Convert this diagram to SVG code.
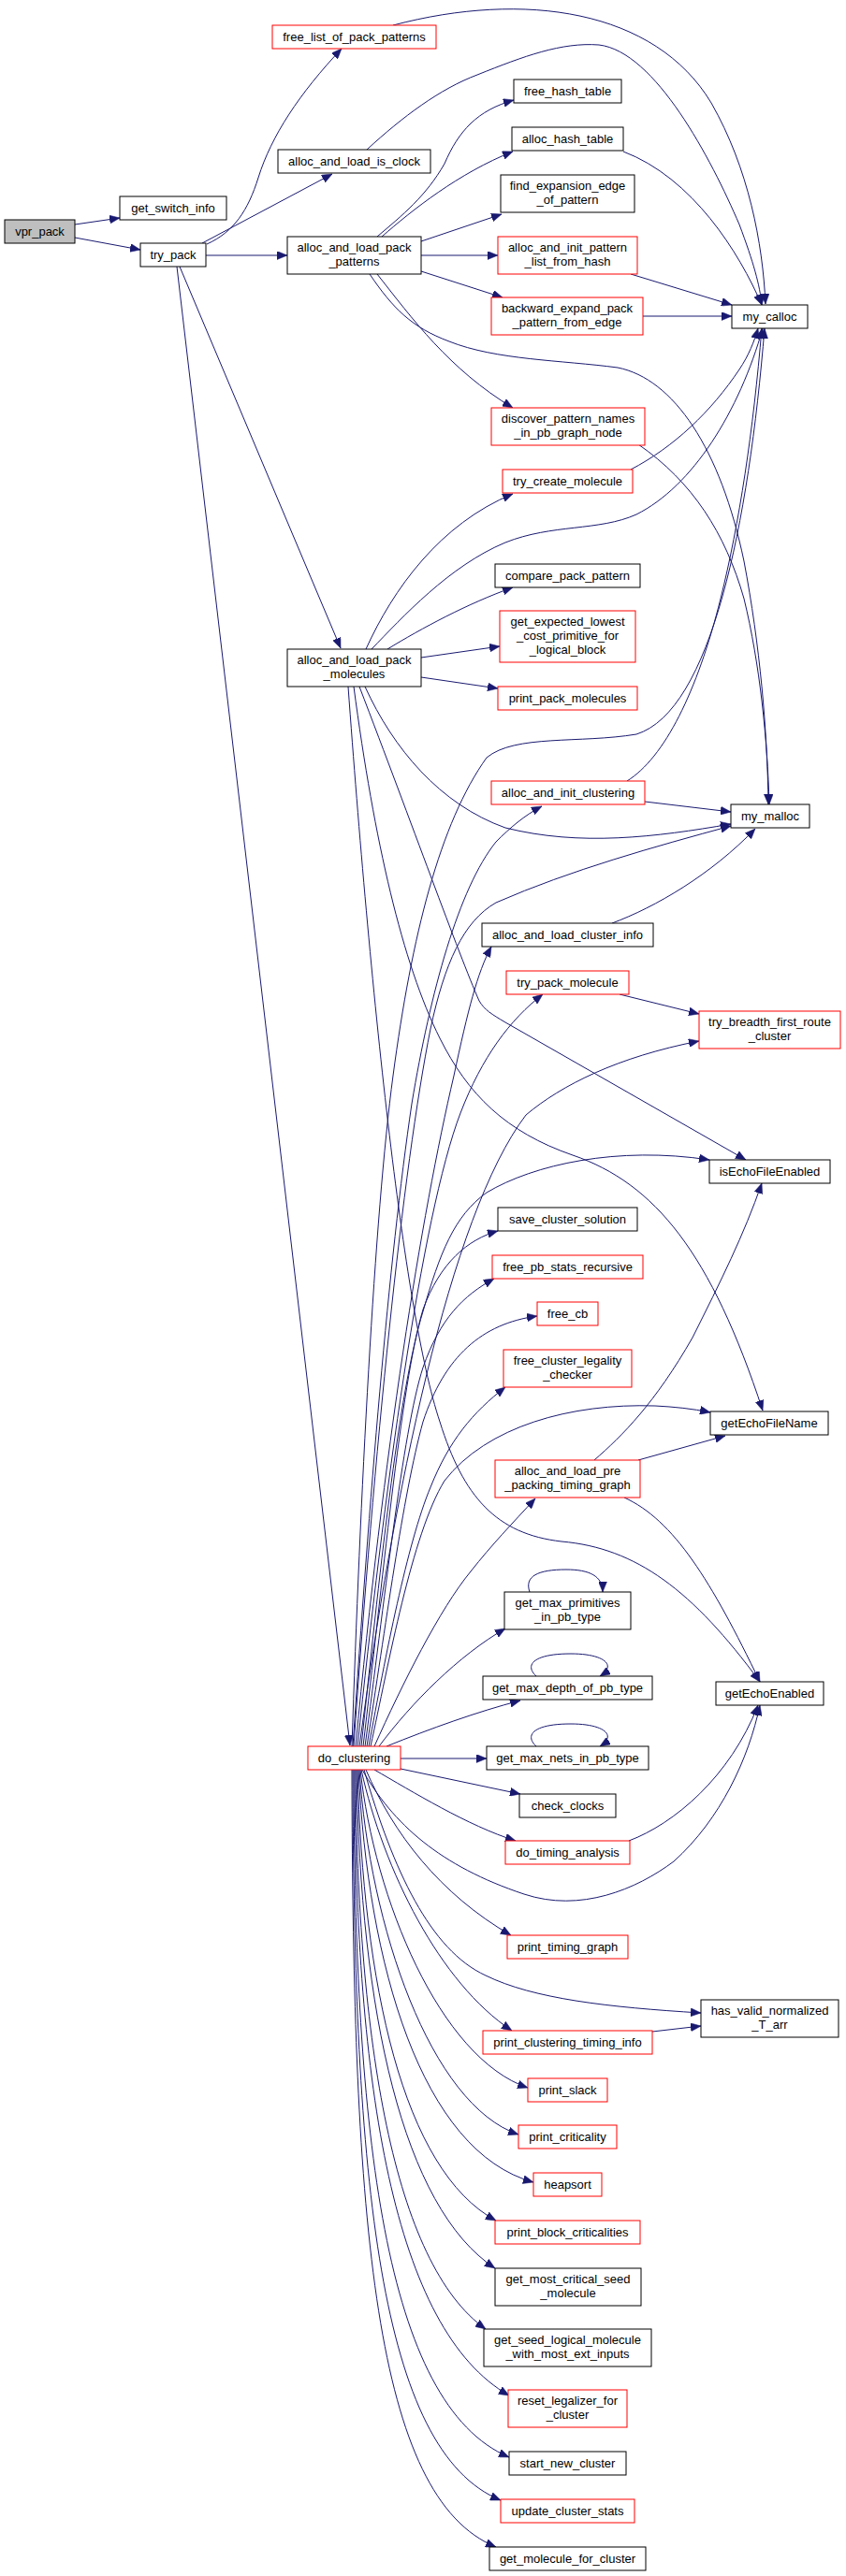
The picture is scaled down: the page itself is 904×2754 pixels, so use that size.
<svg xmlns="http://www.w3.org/2000/svg" width="904" height="2754" viewBox="0 0 904 2754">
<style>
.node rect{fill:#ffffff;stroke:#000000;stroke-width:1}
.node.red rect{stroke:#ff0000}
.node.root rect{fill:#bfbfbf}
.node text{font-family:"Liberation Sans",Arial,Helvetica,sans-serif;font-size:13px;fill:#000000;text-anchor:middle}
#edges path{fill:none;stroke:#191970;stroke-width:1}
</style>
<defs>
<marker id="ah" markerUnits="userSpaceOnUse" markerWidth="11" markerHeight="9" viewBox="0 0 11 9" refX="11" refY="4.5" orient="auto">
<path d="M0,0 L11,4.5 L0,9 Z" fill="#191970" stroke="#191970" stroke-width="0.5"/>
</marker>
</defs>
<rect width="904" height="2754" fill="#ffffff"/>
<g id="edges" marker-end="url(#ah)">
<path d="M80,240 L128,233"/>
<path d="M80,254 L150,267"/>
<path d="M221,261 C250,248 265,225 276,190 C290,145 320,100 365,52"/>
<path d="M216,260 L355,186"/>
<path d="M220,273 L307,273"/>
<path d="M192,285 L364,693"/>
<path d="M189,285 L374,1866"/>
<path d="M420,27 C560,-10 700,10 760,110 C800,180 815,260 818,325"/>
<path d="M392,160 C430,125 470,95 510,80 C560,60 600,45 640,48 C700,55 760,170 790,240 C805,280 812,305 814,326"/>
<path d="M403,253 C430,230 455,210 475,175 C490,140 510,118 549,107"/>
<path d="M408,253 C440,225 490,185 548,162"/>
<path d="M450,258 L536,229"/>
<path d="M450,273 L532,273"/>
<path d="M450,290 L537,318"/>
<path d="M403,293 C440,340 480,395 548,436"/>
<path d="M395,293 C420,330 440,350 480,365 C530,385 600,385 660,393 C720,405 770,480 795,600 C812,690 820,780 821,860"/>
<path d="M666,162 C740,190 790,270 814,326"/>
<path d="M674,293 L782,326"/>
<path d="M687,338 L782,338"/>
<path d="M682,475 C740,515 775,570 795,640 C812,710 820,790 822,860"/>
<path d="M674,502 C720,478 760,440 790,395 C800,380 806,365 810,351"/>
<path d="M391,694 C420,630 470,560 548,528"/>
<path d="M397,694 C430,660 480,605 540,580 C590,560 640,568 680,550 C740,520 790,440 815,351"/>
<path d="M414,694 C450,672 500,645 548,628"/>
<path d="M450,703 L534,691"/>
<path d="M450,724 L532,736"/>
<path d="M390,734 C420,800 470,860 540,885 C620,905 700,895 781,881"/>
<path d="M384,734 C440,880 490,1020 512,1070 C518,1080 525,1084 540,1093 L797,1240"/>
<path d="M378,734 C400,900 430,1030 470,1110 C500,1170 540,1210 612,1235 C700,1265 760,1340 815,1508"/>
<path d="M372,734 C395,1050 430,1400 470,1520 C495,1600 530,1640 600,1648 C680,1655 740,1700 812,1798"/>
<path d="M670,835 C710,810 745,740 770,640 C790,560 805,460 814,351"/>
<path d="M689,857 L781,868"/>
<path d="M654,987 C700,970 760,935 807,886"/>
<path d="M662,1063 L747,1084"/>
<path d="M635,1561 C665,1535 700,1500 740,1430 C770,1370 795,1320 814,1265"/>
<path d="M682,1561 L775,1535"/>
<path d="M667,1601 C720,1625 760,1690 812,1798"/>
<path d="M672,1968 C720,1950 780,1900 810,1823"/>
<path d="M697,2172 L749,2166"/>
<path d="M566,1702 C560,1685 575,1678 605,1678 C630,1678 644,1685 644,1702"/>
<path d="M573,1792 C560,1780 570,1768 610,1768 C645,1768 660,1780 641,1792"/>
<path d="M573,1867 C560,1855 570,1843 610,1843 C645,1843 660,1855 641,1867"/>
<path d="M376,1867 C385,1600 400,1300 420,1150 C440,1000 470,880 520,810 C550,785 620,795 680,785 C760,760 800,560 817,351"/>
<path d="M377,1867 C395,1600 415,1350 440,1180 C460,1060 490,950 530,900 C545,885 560,872 579,862"/>
<path d="M378,1867 C400,1550 430,1250 460,1100 C475,1030 495,985 530,965 C610,930 700,905 781,883"/>
<path d="M380,1867 C410,1550 450,1300 485,1150 C500,1080 510,1040 525,1012"/>
<path d="M382,1867 C410,1600 450,1300 492,1190 C515,1130 545,1090 580,1063"/>
<path d="M384,1867 C420,1600 480,1300 562,1192 C600,1160 660,1130 747,1113"/>
<path d="M386,1867 C405,1690 425,1490 452,1402 C470,1340 485,1300 520,1275 C570,1245 660,1225 758,1240"/>
<path d="M388,1867 C408,1700 428,1480 452,1400 C470,1350 500,1325 532,1316"/>
<path d="M390,1867 C410,1720 430,1530 452,1462 C470,1410 495,1385 528,1367"/>
<path d="M392,1867 C412,1740 430,1600 452,1520 C475,1450 515,1415 574,1407"/>
<path d="M394,1867 C412,1770 435,1650 460,1590 C480,1540 505,1510 540,1483"/>
<path d="M396,1867 C415,1780 440,1640 475,1583 C520,1525 610,1500 700,1503 C720,1504 740,1506 759,1510"/>
<path d="M400,1867 C430,1800 470,1720 503,1680 C525,1652 548,1628 572,1602"/>
<path d="M405,1867 C440,1820 490,1770 540,1741"/>
<path d="M413,1867 C460,1848 510,1830 556,1818"/>
<path d="M428,1880 L520,1880"/>
<path d="M428,1891 L556,1918"/>
<path d="M400,1892 C440,1915 500,1952 551,1968"/>
<path d="M387,1892 C420,1950 470,1995 560,2025 C620,2045 680,2020 720,1990 C770,1945 800,1880 812,1823"/>
<path d="M391,1892 C420,1960 470,2025 546,2069"/>
<path d="M389,1892 C420,2000 460,2085 519,2112 C570,2137 650,2146 749,2152"/>
<path d="M386,1892 C410,2000 470,2120 547,2171"/>
<path d="M385,1892 C400,2030 470,2200 564,2232"/>
<path d="M384,1892 C395,2060 460,2250 554,2282"/>
<path d="M383,1892 C393,2100 450,2300 570,2333"/>
<path d="M382,1892 C388,2120 430,2320 530,2374"/>
<path d="M381,1892 C385,2150 430,2360 529,2425"/>
<path d="M380,1892 C382,2180 420,2420 519,2490"/>
<path d="M379,1892 C380,2230 420,2490 544,2561"/>
<path d="M378,1892 C379,2280 410,2570 544,2627"/>
<path d="M377,1892 C378,2330 405,2620 535,2673"/>
<path d="M376,1892 C377,2380 400,2670 530,2723"/>
</g>
<g id="n_vpr_pack" class="node root"><rect x="5" y="235" width="75" height="25"/><text x="42.5" y="252">vpr_pack</text></g>
<g id="n_get_switch_info" class="node"><rect x="128" y="210" width="114" height="25"/><text x="185" y="227">get_switch_info</text></g>
<g id="n_try_pack" class="node"><rect x="150" y="260" width="70" height="25"/><text x="185" y="277">try_pack</text></g>
<g id="n_free_list_of_pack_patterns" class="node red"><rect x="291" y="27" width="175" height="25"/><text x="378.5" y="44">free_list_of_pack_patterns</text></g>
<g id="n_alloc_and_load_is_clock" class="node"><rect x="297" y="160" width="163" height="25"/><text x="378.5" y="177">alloc_and_load_is_clock</text></g>
<g id="n_alloc_and_load_pack_patterns" class="node"><rect x="307" y="253" width="143" height="40"/><text x="378.5" y="269">alloc_and_load_pack<tspan x="378.5" y="284">_patterns</tspan></text></g>
<g id="n_free_hash_table" class="node"><rect x="549" y="85" width="115" height="25"/><text x="606.5" y="102">free_hash_table</text></g>
<g id="n_alloc_hash_table" class="node"><rect x="547" y="136" width="119" height="25"/><text x="606.5" y="153">alloc_hash_table</text></g>
<g id="n_find_expansion_edge_of_pattern" class="node"><rect x="535" y="187" width="143" height="40"/><text x="606.5" y="203">find_expansion_edge<tspan x="606.5" y="218">_of_pattern</tspan></text></g>
<g id="n_alloc_and_init_pattern_list_from_hash" class="node red"><rect x="532" y="253" width="149" height="40"/><text x="606.5" y="269">alloc_and_init_pattern<tspan x="606.5" y="284">_list_from_hash</tspan></text></g>
<g id="n_backward_expand_pack_pattern_from_edge" class="node red"><rect x="525" y="318" width="162" height="40"/><text x="606" y="334">backward_expand_pack<tspan x="606" y="349">_pattern_from_edge</tspan></text></g>
<g id="n_my_calloc" class="node"><rect x="782" y="326" width="81" height="25"/><text x="822.5" y="343">my_calloc</text></g>
<g id="n_discover_pattern_names_in_pb_graph_node" class="node red"><rect x="525" y="436" width="164" height="40"/><text x="607" y="452">discover_pattern_names<tspan x="607" y="467">_in_pb_graph_node</tspan></text></g>
<g id="n_try_create_molecule" class="node red"><rect x="537" y="502" width="139" height="25"/><text x="606.5" y="519">try_create_molecule</text></g>
<g id="n_compare_pack_pattern" class="node"><rect x="529" y="603" width="155" height="25"/><text x="606.5" y="620">compare_pack_pattern</text></g>
<g id="n_get_expected_lowest_cost_primitive_for_logical_block" class="node red"><rect x="534" y="653" width="145" height="55"/><text x="606.5" y="669">get_expected_lowest<tspan x="606.5" y="684">_cost_primitive_for</tspan><tspan x="606.5" y="699">_logical_block</tspan></text></g>
<g id="n_print_pack_molecules" class="node red"><rect x="532" y="734" width="149" height="25"/><text x="606.5" y="751">print_pack_molecules</text></g>
<g id="n_alloc_and_load_pack_molecules" class="node"><rect x="307" y="694" width="143" height="40"/><text x="378.5" y="710">alloc_and_load_pack<tspan x="378.5" y="725">_molecules</tspan></text></g>
<g id="n_alloc_and_init_clustering" class="node red"><rect x="525" y="835" width="164" height="25"/><text x="607" y="852">alloc_and_init_clustering</text></g>
<g id="n_my_malloc" class="node"><rect x="781" y="860" width="84" height="25"/><text x="823" y="877">my_malloc</text></g>
<g id="n_alloc_and_load_cluster_info" class="node"><rect x="515" y="987" width="183" height="25"/><text x="606.5" y="1004">alloc_and_load_cluster_info</text></g>
<g id="n_try_pack_molecule" class="node red"><rect x="541" y="1038" width="131" height="25"/><text x="606.5" y="1055">try_pack_molecule</text></g>
<g id="n_try_breadth_first_route_cluster" class="node red"><rect x="747" y="1081" width="151" height="40"/><text x="822.5" y="1097">try_breadth_first_route<tspan x="822.5" y="1112">_cluster</tspan></text></g>
<g id="n_isEchoFileEnabled" class="node"><rect x="758" y="1240" width="129" height="25"/><text x="822.5" y="1257">isEchoFileEnabled</text></g>
<g id="n_save_cluster_solution" class="node"><rect x="532" y="1291" width="149" height="25"/><text x="606.5" y="1308">save_cluster_solution</text></g>
<g id="n_free_pb_stats_recursive" class="node red"><rect x="526" y="1342" width="161" height="25"/><text x="606.5" y="1359">free_pb_stats_recursive</text></g>
<g id="n_free_cb" class="node red"><rect x="574" y="1392" width="65" height="25"/><text x="606.5" y="1409">free_cb</text></g>
<g id="n_free_cluster_legality_checker" class="node red"><rect x="538" y="1443" width="137" height="40"/><text x="606.5" y="1459">free_cluster_legality<tspan x="606.5" y="1474">_checker</tspan></text></g>
<g id="n_getEchoFileName" class="node"><rect x="759" y="1509" width="126" height="25"/><text x="822" y="1526">getEchoFileName</text></g>
<g id="n_alloc_and_load_pre_packing_timing_graph" class="node red"><rect x="529" y="1561" width="155" height="40"/><text x="606.5" y="1577">alloc_and_load_pre<tspan x="606.5" y="1592">_packing_timing_graph</tspan></text></g>
<g id="n_get_max_primitives_in_pb_type" class="node"><rect x="539" y="1702" width="135" height="40"/><text x="606.5" y="1718">get_max_primitives<tspan x="606.5" y="1733">_in_pb_type</tspan></text></g>
<g id="n_getEchoEnabled" class="node"><rect x="765" y="1798" width="115" height="25"/><text x="822.5" y="1815">getEchoEnabled</text></g>
<g id="n_get_max_depth_of_pb_type" class="node"><rect x="516" y="1792" width="181" height="25"/><text x="606.5" y="1809">get_max_depth_of_pb_type</text></g>
<g id="n_get_max_nets_in_pb_type" class="node"><rect x="520" y="1867" width="173" height="25"/><text x="606.5" y="1884">get_max_nets_in_pb_type</text></g>
<g id="n_check_clocks" class="node"><rect x="555" y="1918" width="103" height="25"/><text x="606.5" y="1935">check_clocks</text></g>
<g id="n_do_clustering" class="node red"><rect x="329" y="1867" width="99" height="25"/><text x="378.5" y="1884">do_clustering</text></g>
<g id="n_do_timing_analysis" class="node red"><rect x="540" y="1968" width="133" height="25"/><text x="606.5" y="1985">do_timing_analysis</text></g>
<g id="n_print_timing_graph" class="node red"><rect x="542" y="2069" width="129" height="25"/><text x="606.5" y="2086">print_timing_graph</text></g>
<g id="n_has_valid_normalized_T_arr" class="node"><rect x="749" y="2138" width="147" height="40"/><text x="822.5" y="2154">has_valid_normalized<tspan x="822.5" y="2169">_T_arr</tspan></text></g>
<g id="n_print_clustering_timing_info" class="node red"><rect x="516" y="2171" width="181" height="25"/><text x="606.5" y="2188">print_clustering_timing_info</text></g>
<g id="n_print_slack" class="node red"><rect x="564" y="2222" width="85" height="25"/><text x="606.5" y="2239">print_slack</text></g>
<g id="n_print_criticality" class="node red"><rect x="554" y="2272" width="105" height="25"/><text x="606.5" y="2289">print_criticality</text></g>
<g id="n_heapsort" class="node red"><rect x="570" y="2323" width="73" height="25"/><text x="606.5" y="2340">heapsort</text></g>
<g id="n_print_block_criticalities" class="node red"><rect x="529" y="2374" width="155" height="25"/><text x="606.5" y="2391">print_block_criticalities</text></g>
<g id="n_get_most_critical_seed_molecule" class="node"><rect x="529" y="2425" width="156" height="40"/><text x="607" y="2441">get_most_critical_seed<tspan x="607" y="2456">_molecule</tspan></text></g>
<g id="n_get_seed_logical_molecule_with_most_ext_inputs" class="node"><rect x="517" y="2490" width="179" height="40"/><text x="606.5" y="2506">get_seed_logical_molecule<tspan x="606.5" y="2521">_with_most_ext_inputs</tspan></text></g>
<g id="n_reset_legalizer_for_cluster" class="node red"><rect x="543" y="2555" width="127" height="40"/><text x="606.5" y="2571">reset_legalizer_for<tspan x="606.5" y="2586">_cluster</tspan></text></g>
<g id="n_start_new_cluster" class="node"><rect x="544" y="2621" width="125" height="25"/><text x="606.5" y="2638">start_new_cluster</text></g>
<g id="n_update_cluster_stats" class="node red"><rect x="535" y="2672" width="143" height="25"/><text x="606.5" y="2689">update_cluster_stats</text></g>
<g id="n_get_molecule_for_cluster" class="node"><rect x="523" y="2723" width="167" height="25"/><text x="606.5" y="2740">get_molecule_for_cluster</text></g>
</svg>
